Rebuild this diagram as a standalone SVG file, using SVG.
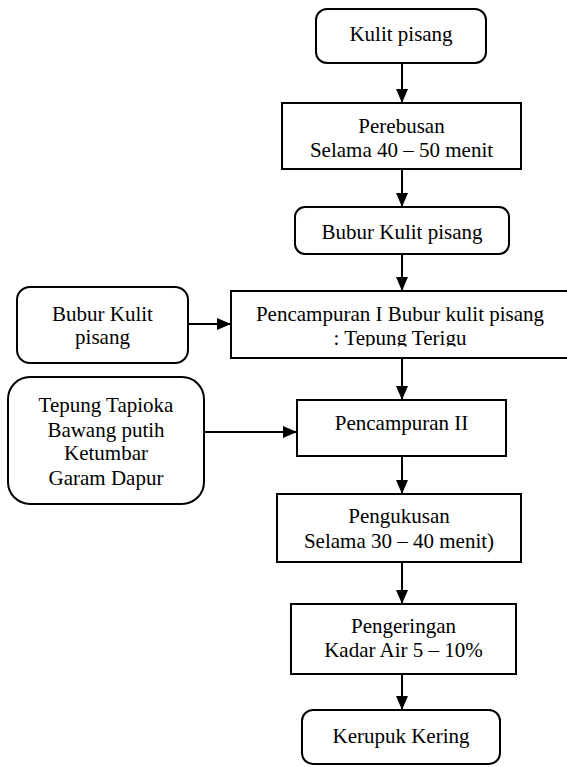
<svg xmlns="http://www.w3.org/2000/svg" width="567" height="767" viewBox="0 0 567 767">
<style>
.box{fill:#fff;stroke:#000;stroke-width:2}
.t{font-family:Liberation Serif, serif;font-size:21px;fill:#000;text-anchor:middle}
.c{stroke:#000;stroke-width:2;fill:none}
</style>
<defs>
<marker id="ah" markerUnits="userSpaceOnUse" markerWidth="14" markerHeight="14" viewBox="0 0 14 14" refX="14" refY="7" orient="auto">
<path d="M0,1 L14,7 L0,13 Z" fill="#000"/>
</marker>
<clipPath id="clip1"><rect x="231" y="291" width="340" height="55.5"/></clipPath>
</defs>
<rect width="567" height="767" fill="#fff"/>
<g id="connectors">
<line class="c" x1="402" y1="63" x2="402" y2="103" marker-end="url(#ah)"/>
<line class="c" x1="402" y1="169" x2="402" y2="207" marker-end="url(#ah)"/>
<line class="c" x1="402" y1="254" x2="402" y2="291" marker-end="url(#ah)"/>
<line class="c" x1="402" y1="358" x2="402" y2="400" marker-end="url(#ah)"/>
<line class="c" x1="402" y1="456" x2="402" y2="494" marker-end="url(#ah)"/>
<line class="c" x1="402" y1="562" x2="402" y2="604" marker-end="url(#ah)"/>
<line class="c" x1="402" y1="674" x2="402" y2="710" marker-end="url(#ah)"/>
<line class="c" x1="188" y1="324" x2="231" y2="324" marker-end="url(#ah)"/>
<line class="c" x1="204" y1="432" x2="297" y2="432" marker-end="url(#ah)"/>
</g>
<g id="kulit-pisang">
<rect class="box" x="316" y="9" width="170" height="54" rx="11"/>
<text class="t" x="401" y="41">Kulit pisang</text>
</g>
<g id="perebusan">
<rect class="box" x="282" y="103" width="239" height="66"/>
<text class="t" x="401.5" y="133">Perebusan</text>
<text class="t" x="401.5" y="157">Selama 40 – 50 menit</text>
</g>
<g id="bubur-kulit-pisang">
<rect class="box" x="295" y="207" width="214" height="47" rx="10"/>
<text class="t" x="402" y="239">Bubur Kulit pisang</text>
</g>
<g id="bubur-kulit-input">
<rect class="box" x="17" y="287" width="171" height="76" rx="13"/>
<text class="t" x="102.5" y="321">Bubur Kulit</text>
<text class="t" x="102.5" y="344">pisang</text>
</g>
<g id="pencampuran-1">
<rect class="box" x="231" y="291" width="340" height="67"/>
<g clip-path="url(#clip1)">
<text class="t" x="400" y="321">Pencampuran I Bubur kulit pisang</text>
<text class="t" x="400" y="345">: Tepung Terigu</text>
</g>
</g>
<g id="bahan-input">
<rect class="box" x="8" y="377" width="196" height="127" rx="22"/>
<text class="t" x="106" y="412">Tepung Tapioka</text>
<text class="t" x="106" y="437">Bawang putih</text>
<text class="t" x="106" y="460">Ketumbar</text>
<text class="t" x="106" y="485">Garam Dapur</text>
</g>
<g id="pencampuran-2">
<rect class="box" x="297" y="400" width="209" height="56"/>
<text class="t" x="401.5" y="430">Pencampuran II</text>
</g>
<g id="pengukusan">
<rect class="box" x="277" y="494" width="244" height="68"/>
<text class="t" x="399" y="523">Pengukusan</text>
<text class="t" x="399" y="548">Selama 30 – 40 menit)</text>
</g>
<g id="pengeringan">
<rect class="box" x="291" y="604" width="225" height="70"/>
<text class="t" x="403.5" y="633">Pengeringan</text>
<text class="t" x="403.5" y="657">Kadar Air 5 – 10%</text>
</g>
<g id="kerupuk-kering">
<rect class="box" x="302" y="710" width="198" height="54" rx="11"/>
<text class="t" x="401" y="743">Kerupuk Kering</text>
</g>
</svg>
